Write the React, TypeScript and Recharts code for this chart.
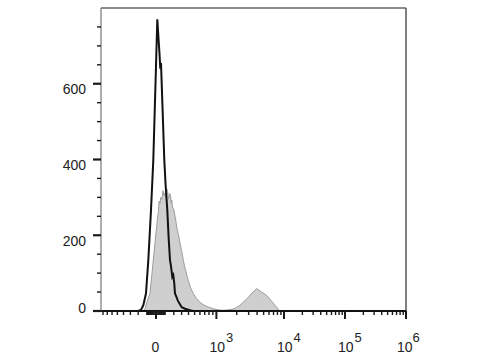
import React from "react";
import { ComposedChart, Area, Line, XAxis, YAxis, ReferenceLine } from "recharts";

// Histogram of the control (black outline): channel position vs count
const controlChannels = [121.3, 131.1, 138.7, 147.5, 155.1, 163.9, 171.5, 178.7, 184.6, 188.5, 191.8, 194.4, 196.7, 201.6, 207.5, 212.0, 217.4, 222.0, 226.2, 229.5, 233.8, 237.0, 240.3, 242.6, 246.0, 251.5, 257.4, 264.6, 275.4, 291.8, 301.6];
const controlCounts = [0, 3, 15, 46, 134, 266, 399, 600, 770, 720, 680, 640, 655, 540, 399, 330, 266, 190, 134, 118, 90, 95, 73, 46, 40, 28, 20, 10, 6, 2, 0];

// Histogram of the stained sample (grey filled)
const stainedChannels = [137.7, 144.3, 150.8, 160.7, 167.2, 171.5, 177.0, 180.0, 182.6, 185.0, 187.9, 190.5, 193.4, 196.0, 200.0, 203.0, 206.6, 210.0, 213.1, 216.0, 218.7, 221.0, 223.0, 225.5, 227.9, 230.0, 231.8, 234.5, 237.7, 240.0, 242.6, 245.0, 248.2, 251.0, 254.1, 256.5, 259.0, 261.5, 263.9, 266.5, 269.8, 274.0, 278.7, 282.0, 286.2, 293.4, 302.6, 313.1, 324.6, 334.4, 346.6, 357.4, 368.2, 383.6, 400.0, 416.4, 432.8, 444.3, 455.7, 467.2, 477.7, 485.2, 494.1, 501.6, 510.5, 518.0, 526.9, 534.4, 543.3, 550.8, 559.7, 567.2, 576.1, 582.0, 586.9];
const stainedCounts = [0, 5, 25, 46, 100, 134, 180, 205, 222, 245, 260, 290, 284, 300, 295, 318, 305, 312, 300, 322, 315, 296, 298, 310, 305, 285, 293, 275, 270, 262, 250, 240, 222, 212, 200, 192, 179, 170, 160, 150, 134, 118, 105, 92, 81, 62, 46, 33, 23, 17, 12, 9, 6, 3, 2, 3, 5, 9, 15, 24, 32, 38, 47, 52, 59, 55, 50, 46, 41, 34, 26, 18, 10, 4, 0];

// Axis values
const yTicks = [0, 50, 100, 150, 200, 250, 300, 350, 400, 450, 500, 550, 600, 650, 700, 750];
const yLabeled = [0, 200, 400, 600];
const xMajorValues = [0, 1e3, 1e4, 1e5, 1e6];
const xMajorLabels = [["0", ""], ["10", "3"], ["10", "4"], ["10", "5"], ["10", "6"]];
const xMinorValues = [
  -900, -800, -700, -600, -500, -400, -300, -200, -100,
  -90, -80, -70, -60, -50, -40, -30, -20, -10,
  10, 20, 30, 40, 50, 60, 70, 80, 90,
  100, 200, 300, 400, 500, 600, 700, 800, 900,
  2e3, 3e3, 4e3, 5e3, 6e3, 7e3, 8e3, 9e3,
  2e4, 3e4, 4e4, 5e4, 6e4, 7e4, 8e4, 9e4,
  2e5, 3e5, 4e5, 5e5, 6e5, 7e5, 8e5, 9e5,
];

// biexponential-like display transform (channel 0..1000)
const LIN_CENTER = 180.3;
const LIN_GAIN = 118.5;
const LIN_WIDTH = 390;
const DECADE_CH = [[4, 600], [5, 800], [6, 1000]];
function toChannel(v: number): number {
  if (Math.abs(v) <= 1000) return LIN_CENTER + LIN_GAIN * Math.asinh(v / LIN_WIDTH);
  const d = Math.log10(v);
  let prevD = 3;
  let prevC = LIN_CENTER + LIN_GAIN * Math.asinh(1000 / LIN_WIDTH);
  for (const [ad, ac] of DECADE_CH) {
    if (d <= ad) return prevC + ((d - prevD) / (ad - prevD)) * (ac - prevC);
    prevD = ad;
    prevC = ac;
  }
  return prevC;
}

const X_MIN = 0;
const X_MAX = 1000;

type TickInfo = { ch: number; major: boolean; label?: string[] };
const tickInfos: TickInfo[] = [
  ...xMajorValues.map((v, i) => ({ ch: toChannel(v), major: true, label: xMajorLabels[i] })),
  ...xMinorValues.map((v) => ({ ch: toChannel(v), major: false })),
].filter((t) => t.ch >= X_MIN - 0.01 && t.ch <= X_MAX + 0.01);
const xTickValues = tickInfos.map((t) => t.ch);

const controlData = controlChannels.map((c, i) => ({ ch: c, count: controlCounts[i] }));
const stainedData = stainedChannels.map((c, i) => ({ ch: c, count: stainedCounts[i] }));

const FONT = "'Liberation Sans', Arial, sans-serif";

function XTick(props: any) {
  const { x, y, payload } = props;
  const info = tickInfos.reduce((best, t) =>
    Math.abs(t.ch - payload.value) < Math.abs(best.ch - payload.value) ? t : best
  );
  const len = info.major ? 8 : 4;
  const isLast = info.ch >= X_MAX - 0.01;
  return (
    <g>
      <line x1={x} y1={y} x2={x} y2={y + len} stroke="#1a1a1a" strokeWidth={info.major ? 2 : 1.4} />
      {info.label ? (
        info.label[1] === "" ? (
          <text x={x - 0.5} y={y + 41} textAnchor="middle" fontFamily={FONT} fontSize={14} fill="#222">
            {info.label[0]}
          </text>
        ) : (
          <text x={x - (isLast ? 9 : 7)} y={y + 41} textAnchor="start" fontFamily={FONT} fontSize={14} fill="#222">
            <tspan>{info.label[0]}</tspan>
            <tspan dx={isLast ? 0 : 1} dy={-10} fontSize={13}>{info.label[1]}</tspan>
          </text>
        )
      ) : null}
    </g>
  );
}

function YTick(props: any) {
  const { x, y, payload } = props;
  const v = payload.value as number;
  const major = yLabeled.includes(v);
  const len = major ? 8 : 4;
  return (
    <g>
      <line x1={x - len} y1={y} x2={x} y2={y} stroke="#1a1a1a" strokeWidth={major ? 2.2 : 1.4} />
      {major ? (
        <text x={x - 15} y={v === 0 ? y + 1.5 : y + 10.5} textAnchor="end" fontFamily={FONT} fontSize={14} fill="#222">
          {String(v)}
        </text>
      ) : null}
    </g>
  );
}

export default function App() {
  return (
    <div style={{ position: "absolute", left: 0, top: 0, width: 480, height: 360, background: "#fff" }}>
      <ComposedChart width={480} height={360} margin={{ top: 8, right: 74, left: 0, bottom: 0 }}>
        <XAxis
          type="number"
          dataKey="ch"
          domain={[X_MIN, X_MAX]}
          ticks={xTickValues}
          interval={0}
          tick={<XTick />}
          tickLine={false}
          tickSize={0}
          tickMargin={0}
          height={49}
          axisLine={{ stroke: "#111", strokeWidth: 2 }}
          allowDataOverflow
        />
        <YAxis
          type="number"
          dataKey="count"
          domain={[0, 800]}
          ticks={yTicks}
          interval={0}
          tick={<YTick />}
          tickLine={false}
          tickSize={0}
          tickMargin={0}
          width={101}
          axisLine={{ stroke: "#777", strokeWidth: 1.2 }}
          allowDataOverflow
        />
        <ReferenceLine y={800} stroke="#666" strokeWidth={1.3} />
        <ReferenceLine x={X_MAX} stroke="#555" strokeWidth={1.5} />
        <Area
          data={stainedData}
          dataKey="count"
          type="linear"
          stroke="#9c9c9c"
          strokeWidth={1}
          fill="#cfcfcf"
          fillOpacity={1}
          isAnimationActive={false}
          dot={false}
          activeDot={false}
        />
        <Line
          data={controlData}
          dataKey="count"
          type="linear"
          stroke="#111"
          strokeWidth={2}
          dot={false}
          activeDot={false}
          isAnimationActive={false}
        />
      </ComposedChart>
    </div>
  );
}
